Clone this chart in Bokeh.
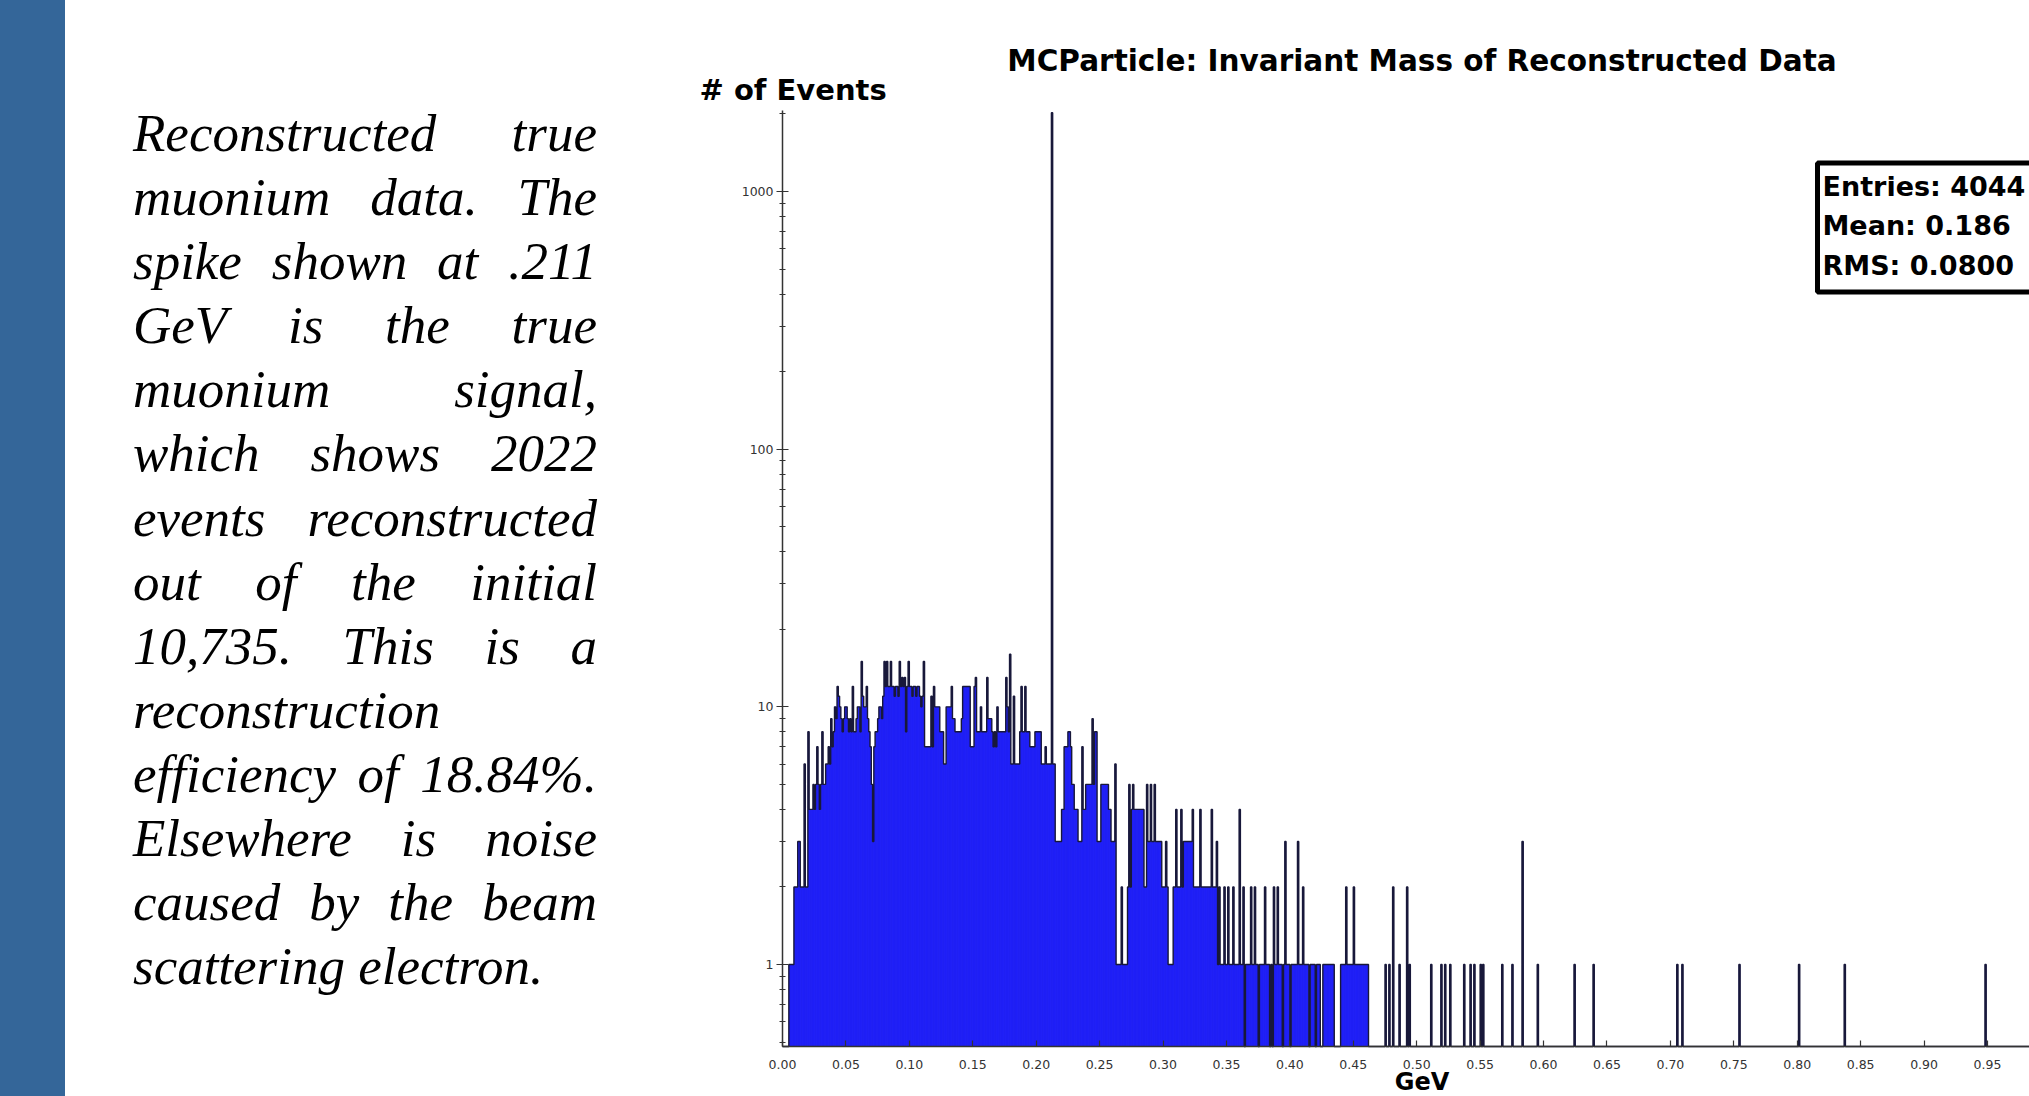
import numpy as np
from bokeh.plotting import figure
from bokeh.models import (Range1d, FixedTicker, PrintfTickFormatter, Label,
                          BoxAnnotation, Div, ColumnDataSource)
from bokeh.layouts import row
from bokeh.embed import file_html
from bokeh.resources import INLINE

# ---------------- data ----------------
bin_width = 0.001  # GeV

# counts per 0.001 GeV bin, starting at 0.000 GeV (bins 0..461)
dense_counts = [
    0, 0, 0, 0, 0, 1, 1, 1, 1, 2,
    2, 2, 3, 3, 2, 2, 2, 6, 2, 2,
    8, 4, 4, 4, 5, 4, 5, 7, 5, 4,
    5, 8, 5, 5, 6, 6, 7, 6, 9, 7,
    8, 10, 9, 12, 11, 10, 9, 8, 9, 10,
    10, 9, 8, 9, 8, 12, 8, 8, 9, 10,
    10, 8, 15, 11, 10, 10, 12, 9, 8, 7,
    5, 3, 7, 8, 8, 9, 10, 10, 9, 11,
    15, 12, 15, 12, 12, 15, 12, 12, 11, 12,
    12, 11, 15, 12, 13, 12, 13, 8, 12, 15,
    12, 12, 11, 12, 12, 11, 12, 12, 11, 10,
    11, 15, 7, 7, 7, 7, 7, 11, 7, 12,
    10, 10, 10, 10, 8, 8, 8, 6, 6, 10,
    10, 10, 10, 12, 9, 9, 8, 8, 8, 8,
    8, 9, 12, 12, 12, 12, 12, 12, 7, 7,
    7, 12, 13, 8, 8, 8, 10, 8, 8, 8,
    8, 13, 9, 9, 9, 8, 7, 8, 7, 10,
    8, 8, 8, 8, 8, 8, 13, 10, 8, 16,
    6, 6, 11, 6, 6, 6, 6, 8, 12, 8,
    8, 12, 8, 8, 8, 7, 7, 7, 7, 8,
    8, 8, 8, 8, 6, 6, 6, 7, 6, 6,
    6, 6, 2022, 6, 6, 3, 3, 3, 3, 3,
    4, 4, 7, 7, 7, 8, 8, 7, 5, 5,
    4, 4, 4, 3, 3, 3, 7, 4, 4, 5,
    5, 5, 5, 5, 9, 5, 8, 8, 3, 3,
    3, 5, 5, 5, 5, 5, 5, 4, 4, 3,
    3, 3, 6, 1, 1, 1, 1, 2, 1, 1,
    1, 1, 2, 5, 2, 4, 5, 4, 4, 4,
    4, 4, 4, 4, 4, 2, 2, 5, 3, 3,
    5, 3, 3, 5, 3, 3, 3, 3, 3, 2,
    2, 2, 3, 2, 1, 1, 1, 1, 2, 2,
    4, 2, 2, 2, 4, 2, 3, 3, 3, 3,
    3, 3, 3, 4, 2, 2, 2, 2, 2, 4,
    2, 2, 2, 2, 2, 2, 2, 2, 4, 2,
    2, 2, 3, 1, 2, 1, 1, 1, 2, 1,
    1, 2, 1, 1, 1, 2, 1, 1, 1, 1,
    4, 1, 1, 2, 0, 1, 1, 1, 1, 2,
    1, 1, 2, 1, 1, 0, 1, 1, 1, 1,
    2, 1, 1, 1, 0, 1, 0, 2, 1, 1,
    2, 1, 1, 1, 0, 1, 3, 1, 1, 1,
    0, 1, 1, 1, 1, 1, 3, 1, 1, 1,
    2, 1, 1, 1, 1, 0, 1, 1, 1, 1,
    0, 1, 1, 1, 0, 0, 1, 1, 1, 1,
    1, 1, 1, 1, 1, 0, 0, 0, 0, 0,
    1, 1, 1, 1, 2, 1, 1, 1, 1, 1,
    2, 1, 1, 1, 1, 1, 1, 1, 1, 1,
    1, 1,
]

# sparse tail: bin index (0.001 GeV bins) and count
tail_bins = [475, 478, 481, 486, 492, 494, 511, 519, 522, 526, 537, 542, 545,
             550, 552, 567, 575, 583, 595, 624, 639, 705, 709, 754, 801, 837, 948]
tail_counts = [1, 1, 2, 1, 2, 1, 1, 1, 1, 1, 1, 1, 1,
               1, 1, 1, 1, 3, 1, 1, 1, 1, 1, 1, 1, 1, 1]

x_ticks = [0.00, 0.05, 0.10, 0.15, 0.20, 0.25, 0.30, 0.35, 0.40, 0.45,
           0.50, 0.55, 0.60, 0.65, 0.70, 0.75, 0.80, 0.85, 0.90, 0.95]
y_ticks = [1, 10, 100, 1000]

title_text = "MCParticle: Invariant Mass of Reconstructed Data"
y_label_text = "# of Events"
x_label_text = "GeV"
stats_lines = ["Entries: 4044", "Mean: 0.186", "RMS: 0.0800"]

paragraph = ("Reconstructed true muonium data. The spike shown at .211 GeV is the "
             "true muonium signal, which shows 2022 events reconstructed out of the "
             "initial 10,735. This is a reconstruction efficiency of 18.84%. "
             "Elsewhere is noise caused by the beam scattering electron.")

# ---------------- page geometry (pixels) ----------------
PAGE_W, PAGE_H = 2029, 1096
LEFT_W = 688                      # left panel (blue bar + paragraph)
FIG_W, FIG_H = PAGE_W - LEFT_W, PAGE_H
X0_WIN, PX_PER_GEV = 782.0, 1268.4     # where 0 GeV sits, scale
Y1_WIN, PX_PER_DEC = 964.0, 257.65     # where count 1 sits, scale
AXIS_BOTTOM_WIN, AXIS_TOP_WIN = 1046.0, 110.0


def gx(wx):
    return (wx - X0_WIN) / PX_PER_GEV


def gy(wy):
    return 10 ** ((Y1_WIN - wy) / PX_PER_DEC)


y_floor = gy(AXIS_BOTTOM_WIN)
y_top = gy(AXIS_TOP_WIN)
x_end = gx(PAGE_W)

# ---------------- histogram arrays ----------------
n_bins = 1000
counts = np.zeros(n_bins)
counts[:len(dense_counts)] = dense_counts
counts[tail_bins] = tail_counts
edges = np.arange(n_bins + 1) * bin_width

nz = counts > 0
h = np.where(nz, counts, y_floor)
step_x = np.column_stack([edges[:-1], edges[1:]]).ravel()
step_y = np.repeat(h, 2)
patch_x = np.concatenate([[edges[0]], step_x, [edges[-1]]])
patch_y = np.concatenate([[y_floor], step_y, [y_floor]])
bars = ColumnDataSource(dict(left=edges[:-1][nz], right=edges[1:][nz],
                             top=counts[nz],
                             bottom=np.full(int(nz.sum()), y_floor)))

# ---------------- figure ----------------
p = figure(width=FIG_W, height=FIG_H, title=None,
           x_range=Range1d(gx(LEFT_W), gx(PAGE_W)),
           y_range=Range1d(gy(PAGE_H), gy(0)), y_axis_type="log",
           output_backend="svg", toolbar_location=None,
           min_border_left=0, min_border_right=0,
           min_border_top=0, min_border_bottom=0)
p.outline_line_color = None
p.grid.visible = False
p.background_fill_color = "white"
p.border_fill_color = "white"

p.patch(patch_x, patch_y, fill_color="#2222ff", line_color=None)
p.quad(left="left", right="right", top="top", bottom="bottom", source=bars,
       fill_color=None, line_color="#10104a", line_width=0.3, line_alpha=0.12)
p.line(step_x, step_y, line_color="#18183a", line_width=1.4)

minor = [m * 10.0 ** k for k in range(-1, 4) for m in range(2, 10)]
minor = [v for v in minor if y_floor <= v <= y_top]
p.yaxis.ticker = FixedTicker(ticks=y_ticks, minor_ticks=minor)
p.yaxis.formatter = PrintfTickFormatter(format="%d")
p.xaxis.ticker = FixedTicker(ticks=x_ticks, minor_ticks=[])
p.xaxis.formatter = PrintfTickFormatter(format="%.2f")

p.yaxis.fixed_location = 0.0
p.yaxis.bounds = (y_floor, y_top)
p.xaxis.fixed_location = y_floor
p.xaxis.bounds = (0.0, x_end)

for ax in (p.xaxis[0], p.yaxis[0]):
    ax.axis_line_color = "#333333"
    ax.axis_line_width = 1.5
    ax.major_tick_line_color = "#333333"
    ax.major_tick_line_width = 1.2
    ax.minor_tick_line_color = "#333333"
    ax.major_label_text_font = "DejaVu Sans"
    ax.major_label_text_font_size = "12.5px"
    ax.major_label_text_color = "#333333"

p.yaxis.major_tick_in = 6
p.yaxis.major_tick_out = 6
p.yaxis.minor_tick_in = 3
p.yaxis.minor_tick_out = 3
p.yaxis.major_label_standoff = 3
p.xaxis.major_tick_in = 6
p.xaxis.major_tick_out = 0
p.xaxis.minor_tick_line_color = None
p.xaxis.major_label_standoff = 13


def bold(size):
    return dict(text_font="DejaVu Sans", text_font_style="bold",
                text_font_size=size, text_color="black")


p.add_layout(Label(x=gx(1421.5), y=gy(60.6), text=title_text, text_align="center",
                   text_baseline="alphabetic", **bold("29.5px")))
p.add_layout(Label(x=gx(699), y=gy(89.7), text=y_label_text, text_align="left",
                   text_baseline="alphabetic", **bold("29px")))
p.add_layout(Label(x=gx(1421.5), y=gy(1095), text=x_label_text, text_align="center",
                   text_baseline="bottom", **bold("24px")))

p.add_layout(BoxAnnotation(left=gx(1817), right=x_end + 0.2,
                           top=gy(162.5), bottom=gy(291.5),
                           fill_color="white", fill_alpha=1.0,
                           line_color="black", line_alpha=1.0, line_width=5))
for txt, wy in zip(stats_lines, [186.0, 224.5, 264.5]):
    p.add_layout(Label(x=gx(1822), y=gy(wy), text=txt, text_align="left",
                       text_baseline="alphabetic", **bold("27px")))

# ---------------- left panel: blue bar + paragraph ----------------
left_html = (
    f'<div style="position:relative;width:{LEFT_W}px;height:{PAGE_H}px;">'
    f'<div style="position:absolute;left:0;top:0;width:65px;height:{PAGE_H}px;'
    'background:#346699;"></div>'
    '<div style="position:absolute;left:133px;top:101px;width:464px;'
    "font-family:'Liberation Serif','Times New Roman',serif;font-style:italic;"
    'font-size:53px;line-height:64.1px;text-align:justify;color:#000;">'
    + paragraph +
    '</div></div>'
)
left = Div(text=left_html, width=LEFT_W, height=PAGE_H, margin=0)

layout = row(left, p)
open("out.html", "w").write(file_html(layout, INLINE))
